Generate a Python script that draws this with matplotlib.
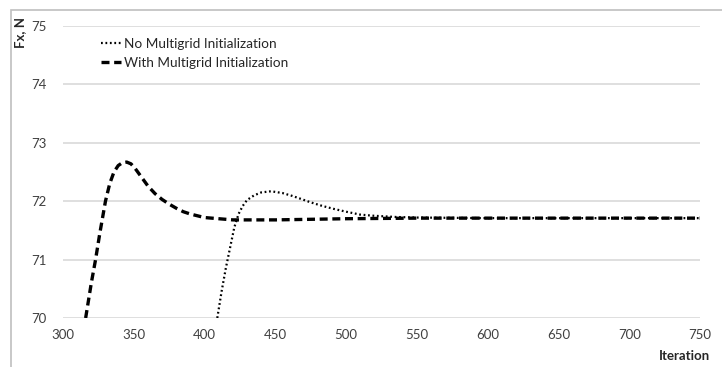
import matplotlib.pyplot as plt
from matplotlib.patches import Rectangle

plt.rcParams['font.family'] = ['Lato', 'DejaVu Sans']

# With Multigrid Initialization (dashed)
it_mg = [316, 320, 323, 326, 330, 333, 336, 339, 342, 345, 348, 351, 354, 357,
         360, 365, 370, 375, 380, 385, 390, 395, 400, 410, 420, 430, 450, 475,
         500, 550, 600, 650, 700, 750]
fx_mg = [70.0, 70.6, 71.0, 71.45, 72.0, 72.3, 72.5, 72.61, 72.66, 72.67, 72.64,
         72.56, 72.46, 72.36, 72.26, 72.13, 72.03, 71.95, 71.88, 71.82, 71.78,
         71.75, 71.72, 71.70, 71.68, 71.68, 71.68, 71.69, 71.70, 71.71, 71.71,
         71.71, 71.71, 71.71]

# No Multigrid Initialization (dotted)
it_no = [409, 412, 415, 418, 421, 424, 427, 430, 435, 440, 447, 455, 462, 468,
         475, 483, 491, 500, 510, 520, 535, 550, 600, 650, 750]
fx_no = [70.0, 70.45, 70.85, 71.2, 71.55, 71.78, 71.92, 72.02, 72.1, 72.15, 72.17,
         72.14, 72.09, 72.04, 71.98, 71.92, 71.87, 71.82, 71.77, 71.75, 71.73,
         71.72, 71.71, 71.71, 71.71]

fig = plt.figure(figsize=(7.22, 3.67), dpi=100)
fig.patches.append(Rectangle((11 / 722, -0.1), 1.2, (367 - 10) / 367 + 0.1,
                             transform=fig.transFigure, fill=False,
                             edgecolor='#bfbfbf', linewidth=1.2))
ax = fig.add_axes([63 / 722, 49 / 367, 637 / 722, 292 / 367])

ax.plot(it_no, fx_no, color='black', linestyle=(0, (0.8, 1.2)), linewidth=1.6,
        label='No Multigrid Initialization')
ax.plot(it_mg, fx_mg, color='black', linestyle=(0, (2.4, 1.4)), linewidth=2.4,
        label='With Multigrid Initialization')

ax.set_xlim(300, 750)
ax.set_ylim(70, 75)
ax.set_xticks(range(300, 751, 50))
ax.set_yticks(range(70, 76))
ax.grid(axis='y', color='#d9d9d9', linewidth=1.2)
ax.set_axisbelow(True)
for s in ax.spines.values():
    s.set_visible(False)
ax.tick_params(length=0, labelsize=9.5, colors='#404040', pad=8)
ax.tick_params(axis='y', pad=12)

fig.text(20 / 722, 1 - 33 / 367, 'Fx, N', rotation=90, fontsize=9.5,
         fontweight='bold', ha='center', va='center', color='#262626')
fig.text(710 / 722, 1 - 356 / 367, 'Iteration', fontsize=9.5,
         fontweight='bold', ha='right', va='center', color='#262626')

leg = ax.legend(loc='upper left', bbox_to_anchor=(0.04, 1.0), frameon=False,
                fontsize=9.8, handlelength=1.5, handletextpad=0.2, labelspacing=0.5)
for t in leg.get_texts():
    t.set_color('#262626')

fig.savefig('out.png', dpi=100)
